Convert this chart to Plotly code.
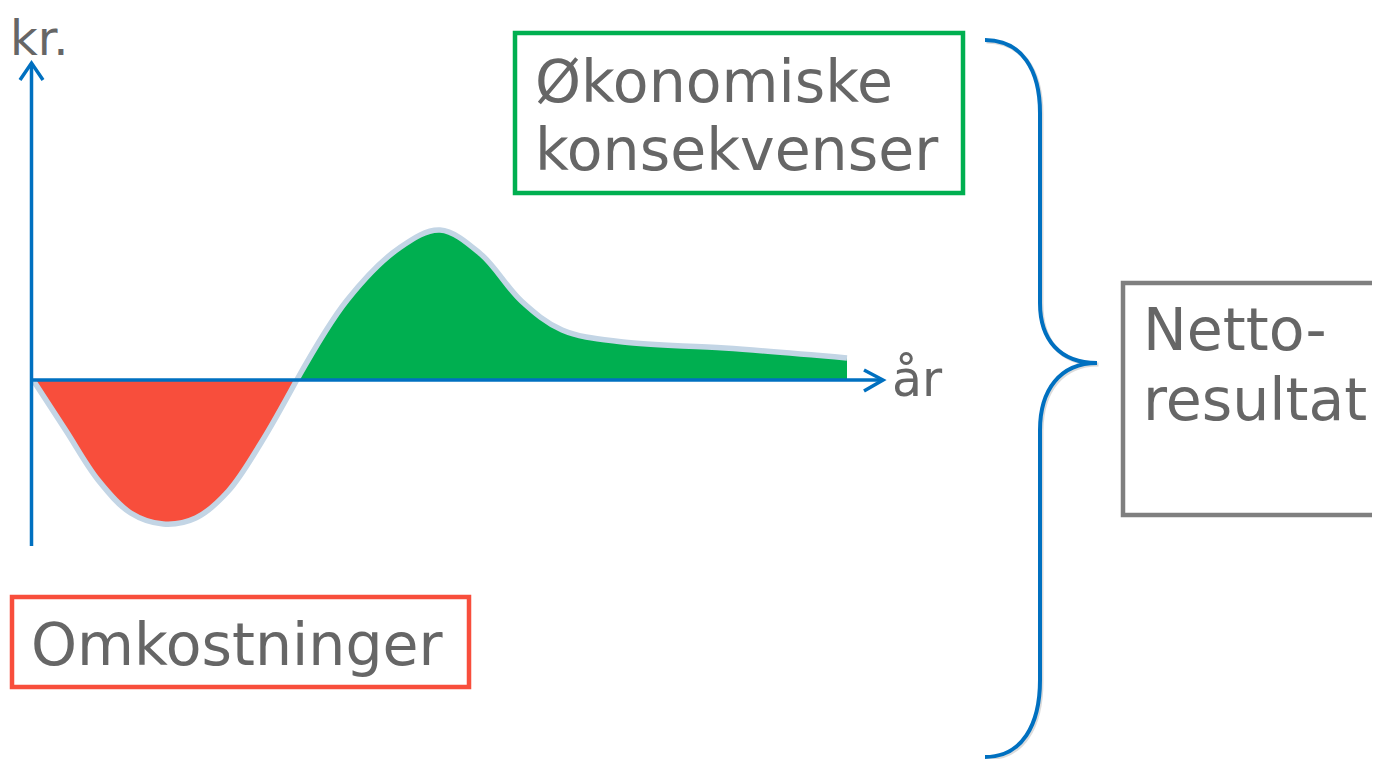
import plotly.graph_objects as go

W, H = 1380, 759
OFF = 8  # page offset of the plot inside the browser window

# ---- data (years vs. kr, arbitrary units) ----
cost_years = [0, 0.4, 0.8, 1.2, 1.6, 2.0, 2.4, 2.8, 3.24]
cost_kr = [0, -5.0, -10.0, -13.3, -14.4, -13.8, -11.1, -6.3, 0]
benefit_years = [3.24, 3.86, 4.5, 5.0, 5.5, 6.0, 6.5, 7.25, 8.5, 10.0]
benefit_kr = [0, 8.0, 13.2, 15.0, 12.6, 7.9, 5.0, 3.8, 3.2, 2.2]

y_label = "kr."
x_label = "år"
cost_label = "Omkostninger"
benefit_label = ["Økonomiske", "konsekvenser"]
net_label = ["Netto-", "resultat"]

RED = "#f84e3c"
GREEN = "#00af50"
OUTLINE = "#c3d5e5"
BLUE = "#0070c0"
GRAY = "#7f7f7f"
TEXT = "#666666"
FONT = "DejaVu Sans"


def px(x):
    return (x - OFF) / W


def py(y):
    return 1 - (y - OFF) / H


fig = go.Figure()
fig.add_trace(go.Scatter(
    x=cost_years, y=cost_kr, mode="lines", fill="tozeroy", fillcolor=RED,
    line=dict(color=OUTLINE, width=5.5, shape="spline", smoothing=1.0),
    hoverinfo="skip", showlegend=False))
fig.add_trace(go.Scatter(
    x=benefit_years, y=benefit_kr, mode="lines", fill="tozeroy", fillcolor=GREEN,
    line=dict(color=OUTLINE, width=5.5, shape="spline", smoothing=1.0),
    hoverinfo="skip", showlegend=False))

shapes = []


def seg_path(pts):
    s = "M {} {}".format(px(pts[0][0]), py(pts[0][1]))
    for p in pts[1:]:
        s += " L {} {}".format(px(p[0]), py(p[1]))
    return s


def line_shape(pts, color, width, opacity=1.0):
    shapes.append(dict(type="path", xref="paper", yref="paper", path=seg_path(pts),
                       line=dict(color=color, width=width), opacity=opacity, layer="above"))


# axes with arrows
line_shape([(31.5, 546), (31.5, 64)], BLUE, 3.5)
line_shape([(20, 80), (31.5, 63), (43, 80)], BLUE, 3.5)
line_shape([(33, 380), (882, 380)], BLUE, 3.5)
line_shape([(864, 370), (883, 380), (864, 391)], BLUE, 3.5)


def rect(x0, y0, x1, y1, color):
    shapes.append(dict(type="rect", xref="paper", yref="paper",
                       x0=px(x0), x1=px(x1), y0=py(y0), y1=py(y1),
                       line=dict(color=color, width=4.5), fillcolor="rgba(0,0,0,0)", layer="above"))


rect(515, 33, 963, 193, GREEN)
rect(12, 597, 469, 687, RED)
rect(1123, 283, 1400, 515, GRAY)


# curly brace
def brace(dx, dy):
    def P(x, y):
        return "{} {}".format(px(x + dx), py(y + dy))
    return ("M " + P(985, 40) +
            " C " + P(1022, 40) + ", " + P(1040, 70) + ", " + P(1040, 113) +
            " L " + P(1040, 303) +
            " C " + P(1040, 340) + ", " + P(1060, 363) + ", " + P(1097, 363) +
            " C " + P(1060, 363) + ", " + P(1040, 390) + ", " + P(1040, 430) +
            " L " + P(1040, 680) +
            " C " + P(1040, 725) + ", " + P(1022, 757) + ", " + P(985, 757))


shapes.append(dict(type="path", xref="paper", yref="paper", path=brace(1.5, 1.5),
                   line=dict(color="#999999", width=4), opacity=0.35, layer="above"))
shapes.append(dict(type="path", xref="paper", yref="paper", path=brace(0, 0),
                   line=dict(color=BLUE, width=4), layer="above"))

annotations = []


def label(text, left, baseline, size):
    annotations.append(dict(
        text=text, xref="paper", yref="paper", x=px(left - 4), y=py(baseline - 0.35 * size),
        xanchor="left", yanchor="middle", showarrow=False,
        font=dict(family=FONT, size=size, color=TEXT)))


# "kr." sits at the very top edge: anchor its box to the top of the figure
annotations.append(dict(
    text=y_label, xref="paper", yref="paper", x=px(8), y=1.0,
    xanchor="left", yanchor="top", showarrow=False,
    font=dict(family=FONT, size=48, color=TEXT)))
label(x_label, 894, 397, 49)
label(benefit_label[0], 537, 102, 58.5)
label(benefit_label[1], 537, 170, 58.5)
label(cost_label, 33, 665, 58.5)
label(net_label[0], 1145, 350, 58.5)
label(net_label[1], 1145, 420, 58.5)

# data axes mapped so that year 0 / 0 kr sits at the drawn axes origin
x_px_per_year = 81.4
y_px_per_kr = 10.0
x0_px, y0_px = 33 - OFF, 380 - OFF
fig.update_layout(
    width=W, height=H, autosize=False,
    margin=dict(l=0, r=0, t=0, b=0),
    paper_bgcolor="white", plot_bgcolor="white",
    xaxis=dict(range=[-x0_px / x_px_per_year, (W - x0_px) / x_px_per_year], visible=False, fixedrange=True),
    yaxis=dict(range=[(y0_px - H) / y_px_per_kr, y0_px / y_px_per_kr], visible=False, fixedrange=True),
    shapes=shapes, annotations=annotations, showlegend=False,
)

fig.write_html("out.html", config={"displayModeBar": False})
